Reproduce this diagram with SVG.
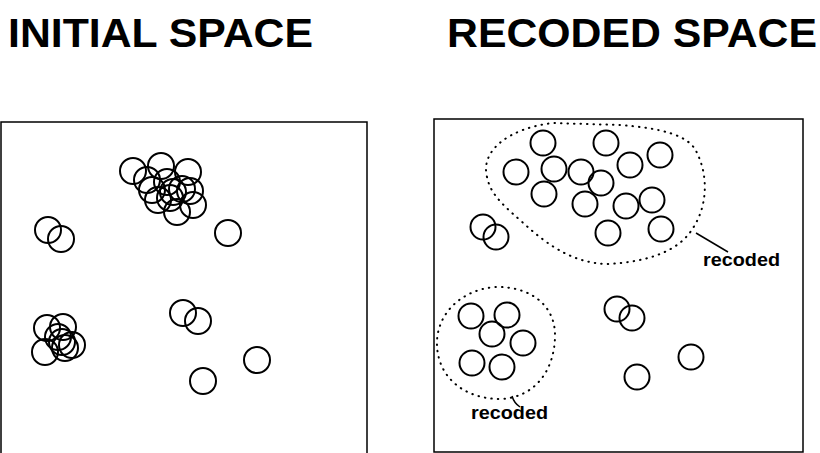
<svg xmlns="http://www.w3.org/2000/svg" width="820" height="453" viewBox="0 0 820 453">
<style>
.title{font-family:"Liberation Sans",Arial,sans-serif;font-weight:bold;font-size:40px;fill:#000}
.lbl{font-family:"Liberation Sans",Arial,sans-serif;font-weight:bold;font-size:18px;fill:#000}
.box{fill:none;stroke:#000;stroke-width:1.5}
circle{fill:none;stroke:#000;stroke-width:2}
.dot{fill:none;stroke:#000;stroke-width:2;stroke-dasharray:0.5 6;stroke-linecap:round}
.lead{fill:none;stroke:#000;stroke-width:1.5}
</style>
<rect width="820" height="453" fill="#fff"/>
<text class="title" x="8" y="47" textLength="305" lengthAdjust="spacingAndGlyphs">INITIAL SPACE</text>
<text class="title" x="447" y="47" textLength="370" lengthAdjust="spacingAndGlyphs">RECODED SPACE</text>

<g id="initial-space">
<path class="box" d="M1,460 V122 H367 V460"/>
<g id="init-cluster-top">
<circle cx="133" cy="171" r="13"/>
<circle cx="161" cy="166" r="13"/>
<circle cx="188" cy="172" r="13"/>
<circle cx="147" cy="180" r="13"/>
<circle cx="167" cy="182" r="13"/>
<circle cx="152" cy="190" r="13"/>
<circle cx="173" cy="192" r="13"/>
<circle cx="182" cy="189" r="13"/>
<circle cx="190" cy="191" r="13"/>
<circle cx="158" cy="200" r="13"/>
<circle cx="193" cy="205" r="13"/>
<circle cx="177" cy="212" r="13"/>
<circle cx="170" cy="198" r="13"/>
</g>
<g id="init-cluster-bottom">
<circle cx="47" cy="328" r="13"/>
<circle cx="63" cy="327" r="13"/>
<circle cx="58" cy="337" r="13"/>
<circle cx="62" cy="342" r="13"/>
<circle cx="72" cy="345" r="13"/>
<circle cx="65" cy="348" r="13"/>
<circle cx="45" cy="352" r="13"/>
</g>
<g id="init-singles">
<circle cx="48" cy="230" r="13"/>
<circle cx="61" cy="239" r="13"/>
<circle cx="228" cy="233" r="13"/>
<circle cx="183" cy="313" r="13"/>
<circle cx="198" cy="321" r="13"/>
<circle cx="257" cy="360" r="13"/>
<circle cx="203" cy="381" r="13"/>
</g>
</g>

<g id="recoded-space">
<rect class="box" x="434" y="119" width="369" height="333"/>
<g id="rec-cluster-top">
<circle cx="543" cy="143" r="12.5"/>
<circle cx="606" cy="143" r="12.5"/>
<circle cx="660" cy="155" r="12.5"/>
<circle cx="630" cy="165" r="12.5"/>
<circle cx="516" cy="172" r="12.5"/>
<circle cx="554" cy="169" r="12.5"/>
<circle cx="581" cy="172" r="12.5"/>
<circle cx="601" cy="183" r="12.5"/>
<circle cx="544" cy="194" r="12.5"/>
<circle cx="585" cy="204" r="12.5"/>
<circle cx="626" cy="206" r="12.5"/>
<circle cx="652" cy="200" r="12.5"/>
<circle cx="608" cy="233" r="12.5"/>
<circle cx="661" cy="229" r="12.5"/>
</g>
<g id="rec-cluster-bottom">
<circle cx="471" cy="316" r="12.5"/>
<circle cx="507" cy="315" r="12.5"/>
<circle cx="492" cy="334" r="12.5"/>
<circle cx="523" cy="343" r="12.5"/>
<circle cx="472" cy="363" r="12.5"/>
<circle cx="502" cy="367" r="12.5"/>
</g>
<g id="rec-singles">
<circle cx="483" cy="227" r="12.5"/>
<circle cx="496" cy="237" r="12.5"/>
<circle cx="617" cy="309" r="12.5"/>
<circle cx="632" cy="318" r="12.5"/>
<circle cx="691" cy="357" r="12.5"/>
<circle cx="637" cy="377" r="12.5"/>
</g>
<g id="region-top">
<path class="dot" d="M487,177 C480,150 510,128 553,123 L620,125 C660,128 690,135 697,153 C708,175 708,205 693,228 C680,250 650,262 607,264 C575,263 550,248 520,220 C500,203 490,192 487,177 Z"/>
<text class="lbl" x="703" y="266" textLength="77" lengthAdjust="spacingAndGlyphs">recoded</text>
</g>
<g id="region-bottom">
<path class="dot" d="M437,345 C436,315 460,290 495,287 C530,286 555,305 555,335 C555,370 535,398 500,399 C465,399 438,378 437,345 Z"/>
<text class="lbl" x="471" y="419" textLength="77" lengthAdjust="spacingAndGlyphs">recoded</text>
</g>
</g>

<g id="connectors">
<path class="lead" d="M696,233 L728,252"/>
<path class="lead" d="M512,396 Q514,403 520,407"/>
</g>
</svg>
